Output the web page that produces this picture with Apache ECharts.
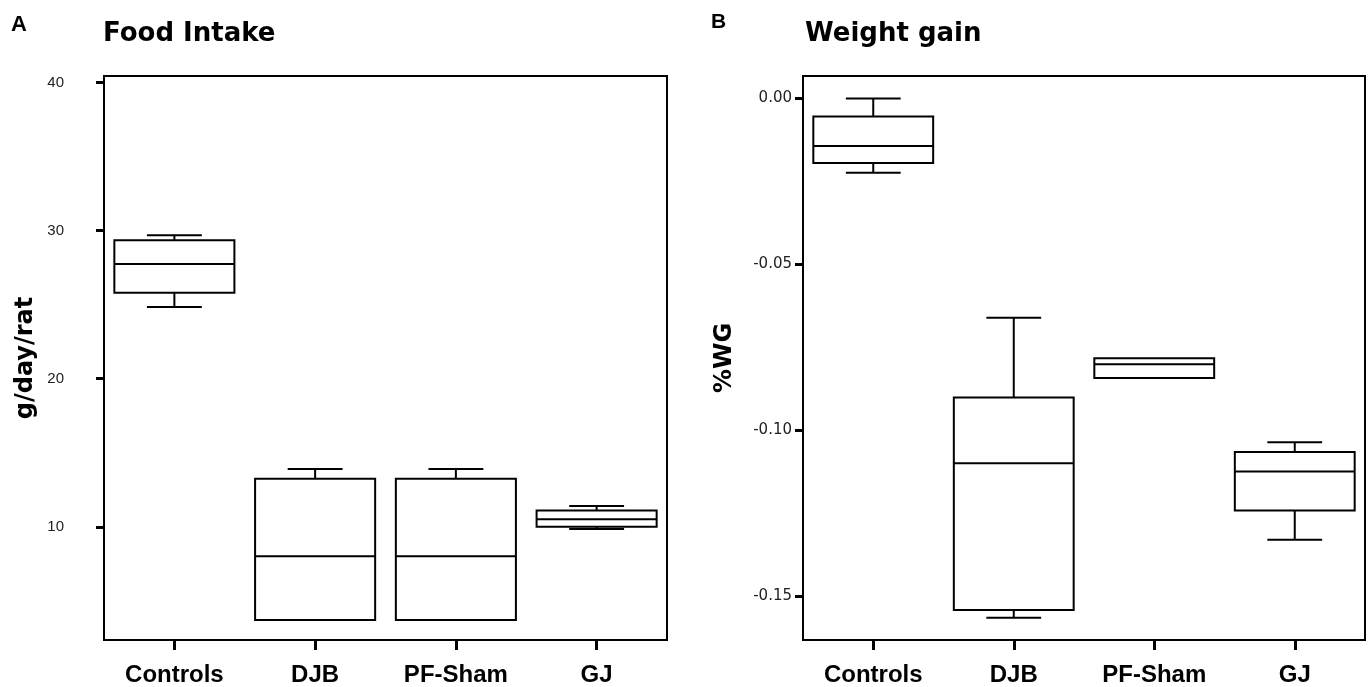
<!DOCTYPE html>
<html>
<head>
<meta charset="utf-8">
<script src="https://cdn.jsdelivr.net/npm/echarts@6/dist/echarts.min.js"></script>
<style>html,body{margin:0;padding:0;background:#fff}#c{width:1371px;height:687px}</style>
</head>
<body>
<div id="c"></div>
<script>
var categories = ['Controls', 'DJB', 'PF-Sham', 'GJ'];
// [min, Q1, median, Q3, max]
var foodIntake = [
  [24.85, 25.8, 27.75, 29.35, 29.7],
  [3.7, 3.7, 8.0, 13.25, 13.9],
  [3.7, 3.7, 8.0, 13.25, 13.9],
  [9.85, 10.0, 10.5, 11.1, 11.4]
];
var weightGain = [
  [-0.0225, -0.0196, -0.0145, -0.0056, -0.0002],
  [-0.1565, -0.1542, -0.110, -0.0902, -0.0662],
  [-0.0843, -0.0843, -0.0802, -0.0784, -0.0784],
  [-0.133, -0.1242, -0.1125, -0.1066, -0.1037]
];
var foodTicks = [10, 20, 30, 40];
var wgTicks = [-0.15, -0.10, -0.05, 0.00];
var titles = ['Food Intake', 'Weight gain'];
var panelLetters = ['A', 'B'];
var yNames = ['g/day/rat', '%WG'];

function toData(arr) {
  return arr.map(function (d, i) { return [i].concat(d); });
}

function renderBox(params, api) {
  var x = api.value(0);
  var mn = api.value(1), q1 = api.value(2), md = api.value(3), q3 = api.value(4), mx = api.value(5);
  var band = api.size([1, 0])[0];
  var bw = band * 0.853, cw = band * 0.39;
  var pMin = api.coord([x, mn]), pQ1 = api.coord([x, q1]), pMd = api.coord([x, md]),
      pQ3 = api.coord([x, q3]), pMax = api.coord([x, mx]);
  var cx = pMd[0];
  var st = { stroke: '#000', lineWidth: 2, fill: null };
  var ch = [
    { type: 'rect', shape: { x: cx - bw / 2, y: pQ3[1], width: bw, height: pQ1[1] - pQ3[1] }, style: { stroke: '#000', lineWidth: 2, fill: '#fff' } },
    { type: 'line', shape: { x1: cx - bw / 2, y1: pMd[1], x2: cx + bw / 2, y2: pMd[1] }, style: st }
  ];
  if (Math.abs(pMax[1] - pQ3[1]) > 0.5) {
    ch.push({ type: 'line', shape: { x1: cx, y1: pQ3[1], x2: cx, y2: pMax[1] }, style: st });
    ch.push({ type: 'line', shape: { x1: cx - cw / 2, y1: pMax[1], x2: cx + cw / 2, y2: pMax[1] }, style: st });
  }
  if (Math.abs(pMin[1] - pQ1[1]) > 0.5) {
    ch.push({ type: 'line', shape: { x1: cx, y1: pQ1[1], x2: cx, y2: pMin[1] }, style: st });
    ch.push({ type: 'line', shape: { x1: cx - cw / 2, y1: pMin[1], x2: cx + cw / 2, y2: pMin[1] }, style: st });
  }
  return { type: 'group', children: ch };
}

var chart = echarts.init(document.getElementById('c'), null, { renderer: 'canvas' });

function xAxis(gi) {
  return {
    type: 'category', gridIndex: gi, data: categories, boundaryGap: true,
    axisLine: { show: true, onZero: false, lineStyle: { color: '#000', width: 2 } },
    axisTick: { show: true, alignWithLabel: true, length: 10, lineStyle: { color: '#000', width: 3 } },
    axisLabel: { margin: 23, color: '#000', fontFamily: 'Liberation Sans', fontWeight: 'bold', fontSize: 24 },
    splitLine: { show: false }
  };
}

var option = {
  backgroundColor: '#fff',
  animation: false,
  title: [
    { text: panelLetters[0], left: 11, top: 14, padding: 0, textStyle: { fontFamily: 'Liberation Sans', fontWeight: 'bold', fontSize: 22, color: '#000' } },
    { text: panelLetters[1], left: 711, top: 12, padding: 0, textStyle: { fontFamily: 'Liberation Sans', fontWeight: 'bold', fontSize: 21, color: '#000' } },
    { text: titles[0], left: 103, top: 21, padding: 0, textStyle: { fontFamily: 'DejaVu Sans', fontWeight: 'bold', fontSize: 26, color: '#000' } },
    { text: titles[1], left: 805, top: 21, padding: 0, textStyle: { fontFamily: 'DejaVu Sans', fontWeight: 'bold', fontSize: 26, color: '#000' } }
  ],
  grid: [
    { left: 104, top: 76, width: 563, height: 564, show: true, borderColor: '#000', borderWidth: 2, backgroundColor: 'transparent', outerBoundsMode: 'none' },
    { left: 803, top: 76, width: 562, height: 564, show: true, borderColor: '#000', borderWidth: 2, backgroundColor: 'transparent', outerBoundsMode: 'none' }
  ],
  xAxis: [xAxis(0), xAxis(1)],
  yAxis: [
    {
      type: 'value', gridIndex: 0, min: 2.35, max: 40.45,
      name: yNames[0], nameLocation: 'middle', nameGap: 66, nameMoveOverlap: false,
      nameTextStyle: { fontFamily: 'DejaVu Sans', fontWeight: 'bold', fontSize: 24, color: '#000' },
      axisLine: { show: true, onZero: false, lineStyle: { color: '#000', width: 2 } },
      axisTick: { show: true, length: 8, customValues: foodTicks, lineStyle: { color: '#000', width: 3 } },
      axisLabel: { margin: 40, customValues: foodTicks, color: '#222', fontFamily: 'Liberation Sans', fontSize: 15 },
      splitLine: { show: false }
    },
    {
      type: 'value', gridIndex: 1, min: -0.1632, max: 0.0066,
      name: yNames[1], nameLocation: 'middle', nameGap: 66, nameMoveOverlap: false,
      nameTextStyle: { fontFamily: 'DejaVu Sans', fontWeight: 'bold', fontSize: 24, color: '#000' },
      axisLine: { show: true, onZero: false, lineStyle: { color: '#000', width: 2 } },
      axisTick: { show: true, length: 8, customValues: wgTicks, lineStyle: { color: '#000', width: 3 } },
      axisLabel: { margin: 11, customValues: wgTicks, color: '#222', fontFamily: 'DejaVu Sans', fontSize: 15,
        formatter: function (v) { return (Math.abs(v) < 1e-9 ? 0 : v).toFixed(2); } },
      splitLine: { show: false }
    }
  ],
  series: [
    { type: 'custom', xAxisIndex: 0, yAxisIndex: 0, renderItem: renderBox, data: toData(foodIntake), encode: { x: 0, y: [1, 2, 3, 4, 5] }, clip: false },
    { type: 'custom', xAxisIndex: 1, yAxisIndex: 1, renderItem: renderBox, data: toData(weightGain), encode: { x: 0, y: [1, 2, 3, 4, 5] }, clip: false }
  ]
};
chart.setOption(option);
</script>
</body>
</html>
